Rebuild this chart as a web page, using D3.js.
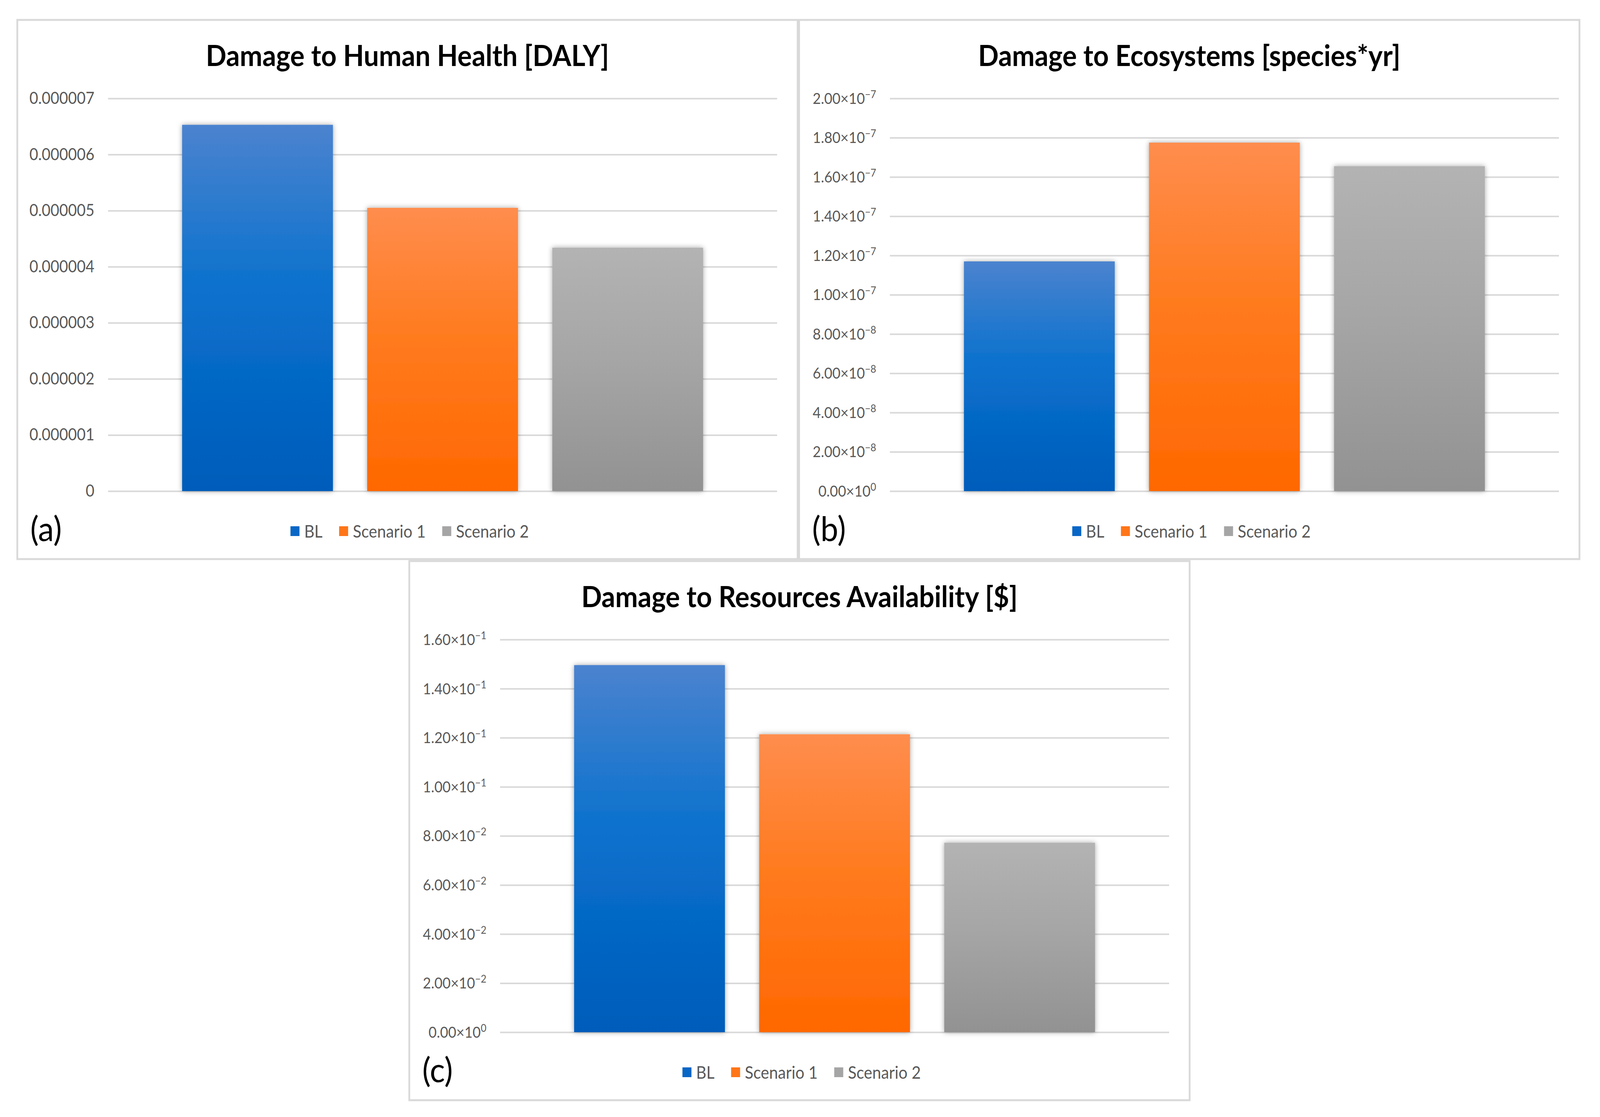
<!DOCTYPE html>
<html>
<head>
<meta charset="utf-8">
<script src="https://cdn.jsdelivr.net/npm/d3@7"></script>
<style>
  html, body { margin: 0; padding: 0; background: #fff; overflow: hidden; }
  svg { display: block; width: 100vw; height: 100vh; }
</style>
</head>
<body>
<svg id="chart"></svg>
<script>
const categories = ["BL", "Scenario 1", "Scenario 2"];
const healthValues = [6.53e-6, 5.05e-6, 4.34e-6];
const ecoValues = [1.17e-7, 1.775e-7, 1.655e-7];
const resourceValues = [0.1496, 0.1214, 0.0772];
const healthTicks = [0, 1e-6, 2e-6, 3e-6, 4e-6, 5e-6, 6e-6, 7e-6];
const ecoTicks = [0, 2e-8, 4e-8, 6e-8, 8e-8, 1e-7, 1.2e-7, 1.4e-7, 1.6e-7, 1.8e-7, 2e-7];
const resourceTicks = [0, 0.02, 0.04, 0.06, 0.08, 0.1, 0.12, 0.14, 0.16];
const titles = ["Damage to Human Health [DALY]", "Damage to Ecosystems [species*yr]", "Damage to Resources Availability [$]"];
const letters = ["(a)", "(b)", "(c)"];

const W = 4441, H = 2859;
// stretch to whatever the window is, so the layout fills it like the original
const svg = d3.select("#chart")
  .attr("viewBox", `0 0 ${W} ${H}`)
  .attr("preserveAspectRatio", "none");
const defs = svg.append("defs");

const gradStops = [
  ["#4b83cf", "#0a71cd", "#005cba"],
  ["#ff8d4e", "#ff7b1f", "#ff6800"],
  ["#b3b3b3", "#a6a6a6", "#929292"]
];
const legendColors = ["#0866c6", "#ff7518", "#a5a5a5"];
const font = "Lato, 'Open Sans', sans-serif";

gradStops.forEach((s, i) => {
  const g = defs.append("linearGradient").attr("id", "grad" + i)
    .attr("x1", 0).attr("y1", 0).attr("x2", 0).attr("y2", 1);
  g.append("stop").attr("offset", "0%").attr("stop-color", s[0]);
  g.append("stop").attr("offset", "45%").attr("stop-color", s[1]);
  g.append("stop").attr("offset", "100%").attr("stop-color", s[2]);
});

defs.append("filter").attr("id", "shadow")
  .attr("x", "-10%").attr("y", "-5%").attr("width", "120%").attr("height", "110%")
  .append("feDropShadow")
  .attr("dx", 0).attr("dy", 0).attr("stdDeviation", 7)
  .attr("flood-color", "#000").attr("flood-opacity", 0.35);

function sciLabel(text, v) {
  const [m, e] = d3.format(".2e")(v).split("e");
  const exp = String(+e);
  text.text(null).attr("font-size", 39);
  text.append("tspan").text(m + "\u00D710");
  text.append("tspan").attr("dy", -15).attr("font-size", 27).text(exp.replace("-", "\u2212"));
}

function plainLabel(text, v) {
  text.attr("font-size", 42).text(v === 0 ? "0" : d3.format(".6f")(v));
}

const panels = [
  { x: 48, y: 51, values: healthValues, ticks: healthTicks, fmt: plainLabel },
  { x: 2218, y: 51, values: ecoValues, ticks: ecoTicks, fmt: sciLabel },
  { x: 1136, y: 1436, values: resourceValues, ticks: resourceTicks, fmt: sciLabel }
];
const pw = 2166, ph = 1380;

panels.forEach((p, pi) => {
  const g = svg.append("g").attr("transform", `translate(${p.x},${p.y})`);

  g.append("rect")
    .attr("width", pw).attr("height", ph)
    .attr("fill", "#fff").attr("stroke", "#d9d9d9").attr("stroke-width", 5);

  const left = 252, right = pw - 57, top = 201, bottom = ph - 174;

  const y = d3.scaleLinear()
    .domain([0, p.ticks[p.ticks.length - 1]])
    .range([bottom, top]);
  const x = d3.scaleBand()
    .domain(categories)
    .range([left, right])
    .paddingInner(0.185)
    .paddingOuter(0.4);

  g.append("text")
    .attr("x", pw / 2).attr("y", 118)
    .attr("text-anchor", "middle")
    .attr("font-family", font)
    .attr("font-weight", "bold")
    .attr("font-size", 75)
    .attr("fill", "#000")
    .text(titles[pi]);

  const axis = g.append("g")
    .attr("transform", `translate(${left},0)`)
    .call(d3.axisLeft(y).tickValues(p.ticks).tickSize(-(right - left)).tickFormat(""));
  axis.select(".domain").remove();
  axis.selectAll(".tick line").attr("stroke", "#d9d9d9").attr("stroke-width", 4);

  g.selectAll("text.ylab")
    .data(p.ticks)
    .join("text")
    .attr("class", "ylab")
    .attr("x", left - 38)
    .attr("y", d => y(d) + 14)
    .attr("text-anchor", "end")
    .attr("font-family", font)
    .attr("fill", "#595959")
    .each(function (d) { p.fmt(d3.select(this), d); });

  g.selectAll("rect.bar")
    .data(p.values)
    .join("rect")
    .attr("class", "bar")
    .attr("x", (d, i) => x(categories[i]))
    .attr("width", x.bandwidth())
    .attr("y", d => y(d))
    .attr("height", d => bottom - y(d))
    .attr("fill", (d, i) => `url(#grad${i})`)
    .attr("filter", "url(#shadow)");

  // legend
  const leg = g.append("g");
  let cx = 0;
  categories.forEach((c, i) => {
    const it = leg.append("g").attr("transform", `translate(${cx},0)`);
    it.append("rect").attr("x", 0).attr("y", -29).attr("width", 25).attr("height", 25)
      .attr("fill", legendColors[i]);
    const t = it.append("text").attr("x", 38).attr("y", 0)
      .attr("font-family", font)
      .attr("font-size", 44).attr("fill", "#595959").text(c);
    cx += 38 + t.node().getComputedTextLength() + 46;
  });
  const legW = cx - 46;
  leg.attr("transform", `translate(${pw / 2 - legW / 2 + 6},${1325})`);

  g.append("text")
    .attr("x", 36).attr("y", 1334)
    .attr("font-family", font)
    .attr("font-size", 88)
    .attr("fill", "#000")
    .text(letters[pi]);
});
</script>
</body>
</html>
